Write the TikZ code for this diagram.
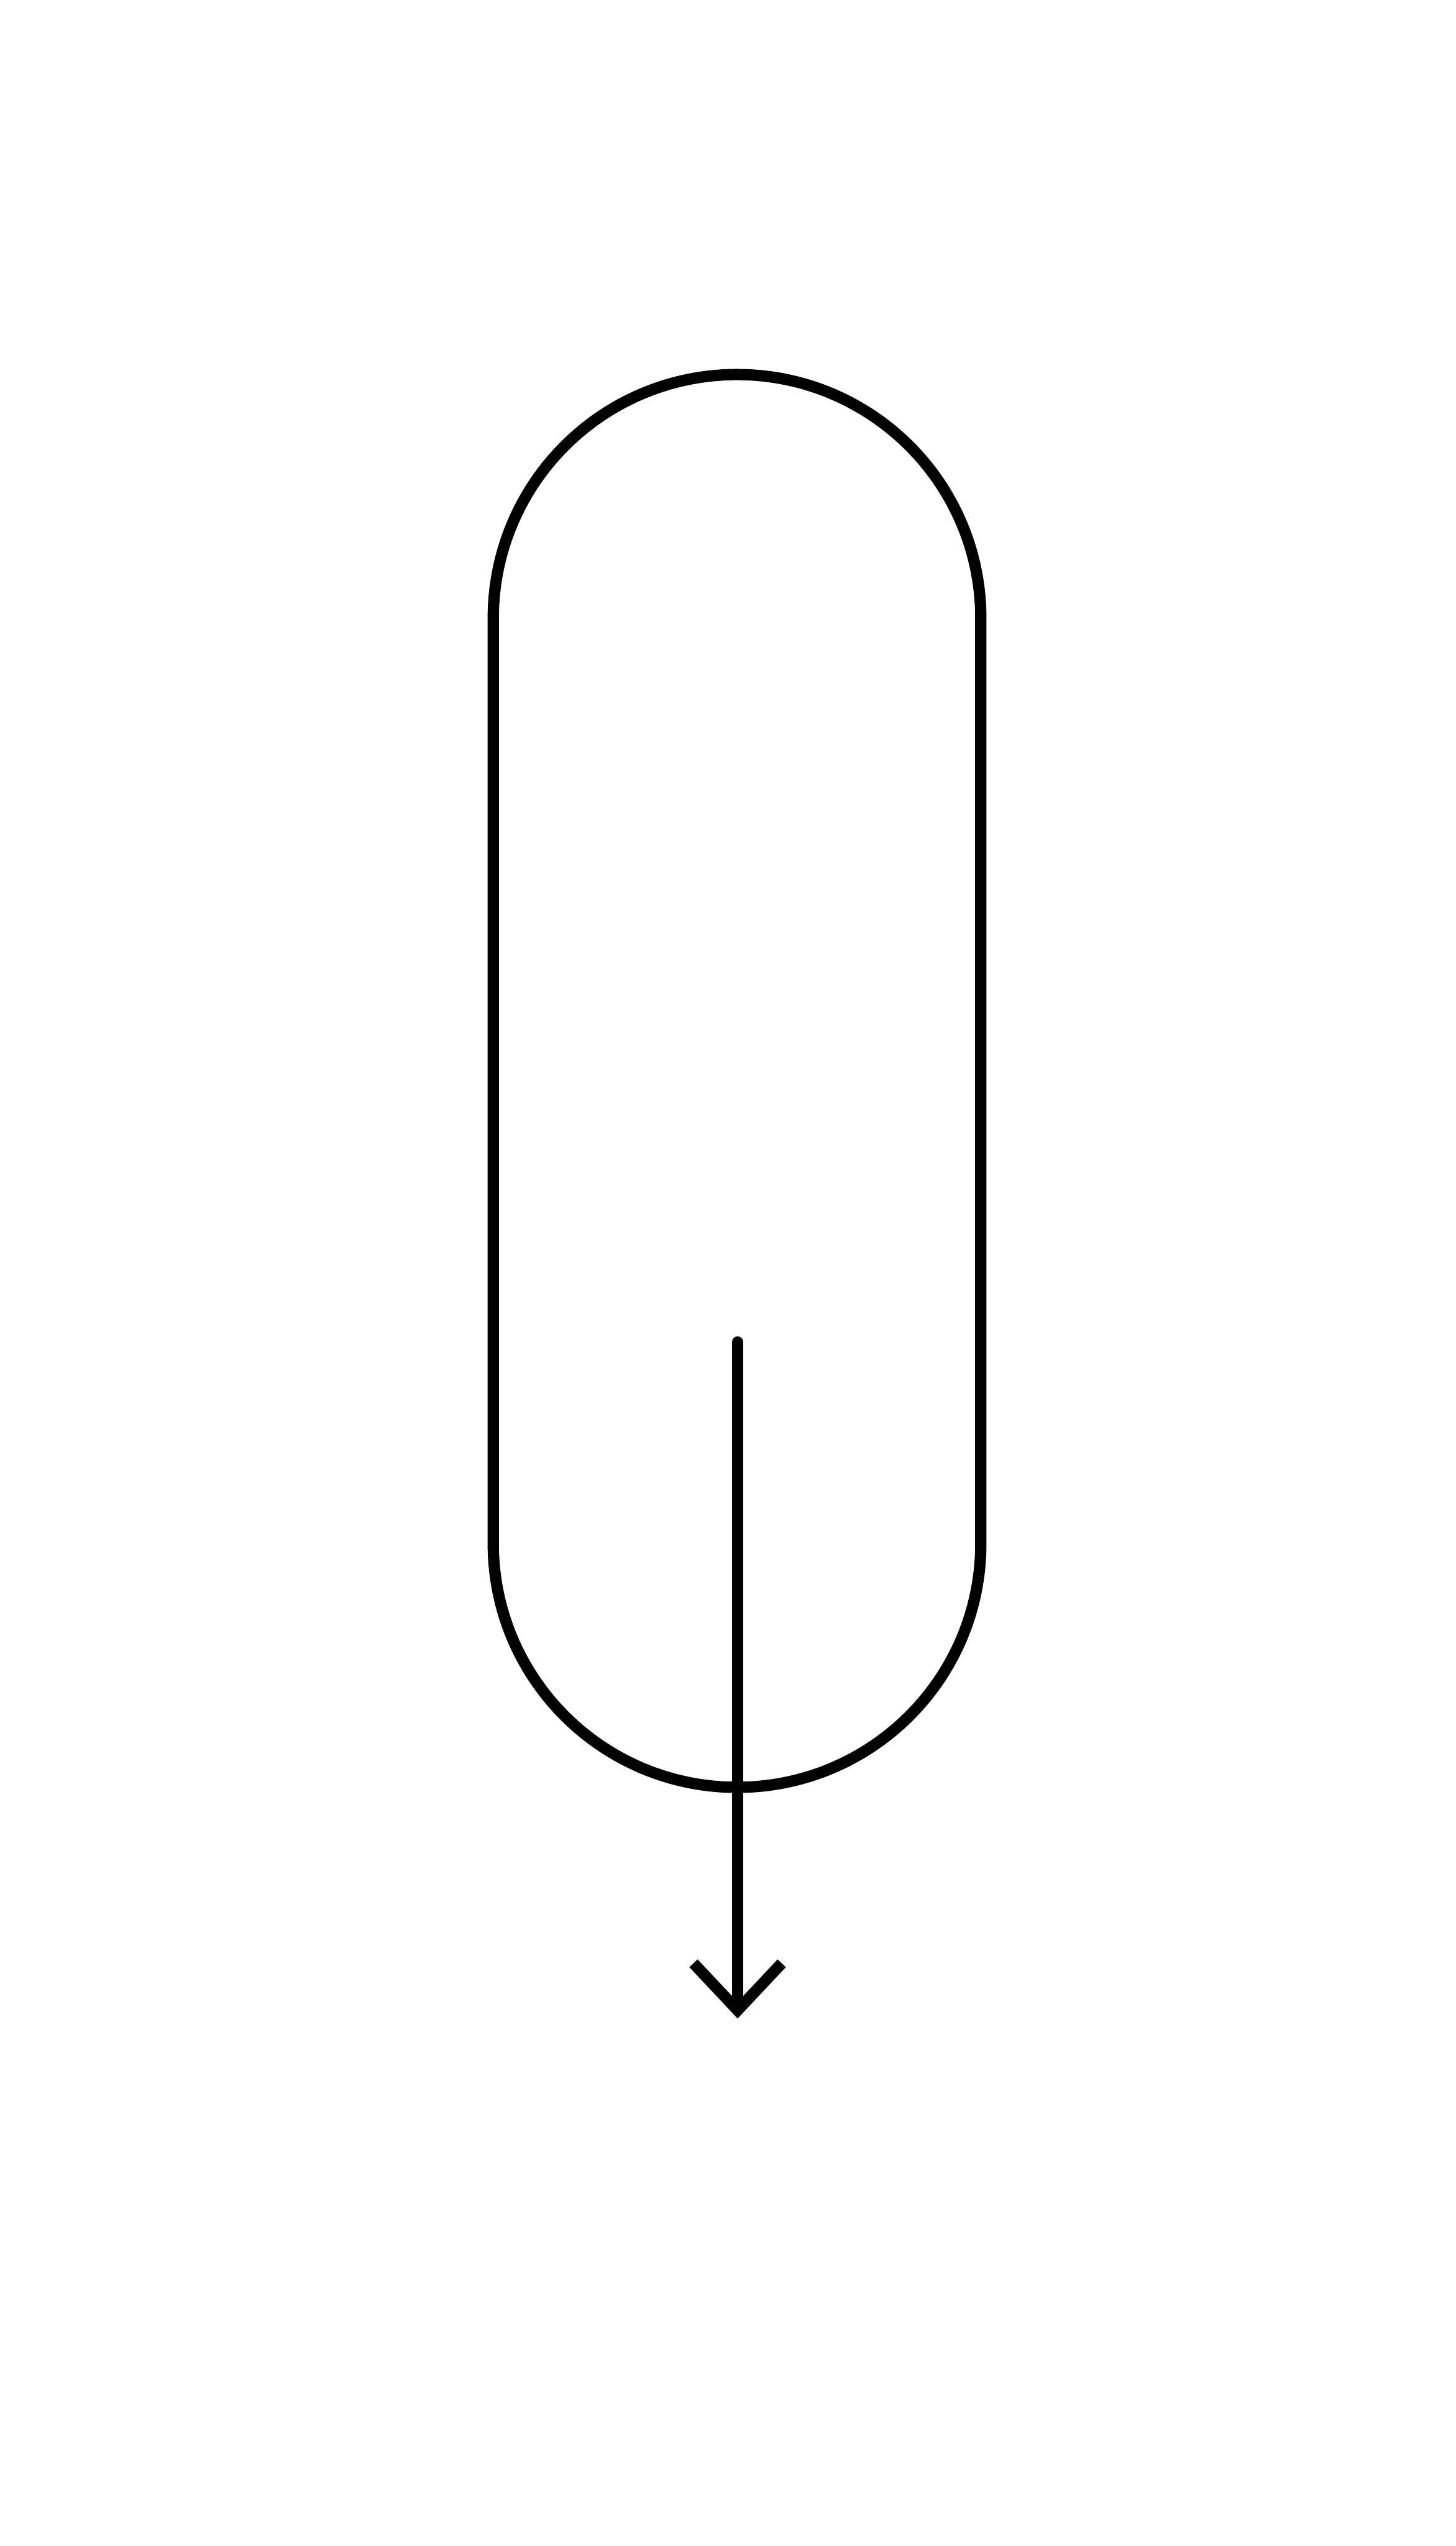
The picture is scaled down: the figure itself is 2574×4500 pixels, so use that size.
\documentclass[tikz,border=0pt]{standalone}
\begin{document}
\begin{tikzpicture}[x=0.25pt,y=-0.25pt,
  stroke/.style={draw=black,line width=5pt},
  pill/.style={stroke,rectangle,rounded corners=107.75pt,minimum width=215.5pt,minimum height=624.25pt,inner sep=0pt}]
\useasboundingbox (0,0) rectangle (2574,4500);
\node[pill] (capsule) at (1303,1910.5) {};
\coordinate (start) at (1304,2372);
\coordinate (tip) at (1304,3553);
\draw[stroke,line cap=round] (start) -- (tip);
\draw[stroke,line join=miter] ([shift={(-78,-83)}]tip) -- (tip) -- ([shift={(78,-83)}]tip);
\end{tikzpicture}
\end{document}
